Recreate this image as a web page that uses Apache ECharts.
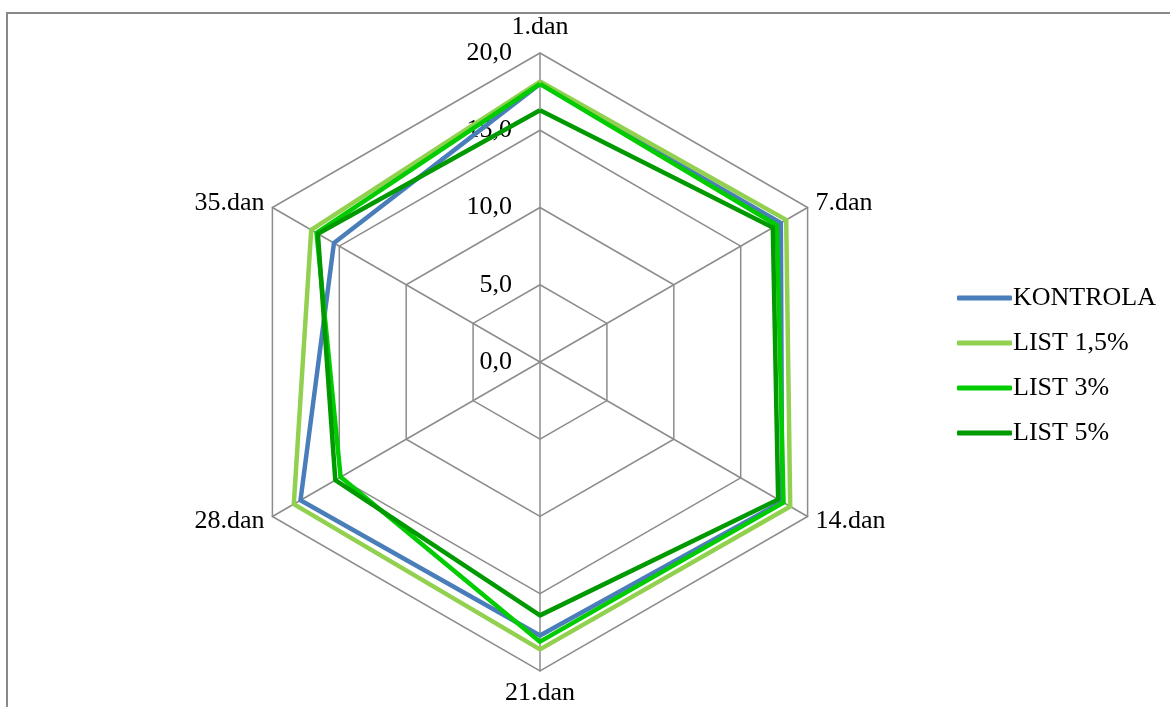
<!DOCTYPE html>
<html>
<head>
<meta charset="utf-8">
<script src="https://cdn.jsdelivr.net/npm/echarts@6/dist/echarts.min.js"></script>
<style>html,body{margin:0;padding:0;background:#fff}#c{width:1170px;height:707px}</style>
</head>
<body>
<div id="c"></div>
<script>
const categories = ['1.dan', '7.dan', '14.dan', '21.dan', '28.dan', '35.dan'];
const tickLabels = ['0,0', '5,0', '10,0', '15,0', '20,0'];
const seriesNames = ['KONTROLA', 'LIST 1,5%', 'LIST 3%', 'LIST 5%'];
const kontrola = [18.0, 18.0, 18.1, 17.7, 17.9, 15.4];
const list15 = [18.15, 18.4, 18.7, 18.6, 18.4, 17.1];
const list3 = [18.0, 17.7, 18.2, 18.1, 14.9, 16.7];
const list5 = [16.3, 17.4, 17.8, 16.4, 15.3, 16.6];
const colors = ['#4A7EBB', '#92D050', '#00CC00', '#009900'];
const values = [kontrola, list15, list3, list5];

// ECharts radar runs counter-clockwise; reorder so categories go clockwise
const order = [0].concat(categories.map((_, i) => i).slice(1).reverse());

const FONT = 'Liberation Serif';
const chart = echarts.init(document.getElementById('c'), null, {renderer: 'canvas'});

const indicator = order.map((idx, i) => {
  const ind = {name: categories[idx], min: 0, max: 20};
  if (i === 0) {
    ind.axisLabel = {show: true};
  }
  return ind;
});

chart.setOption({
  animation: false,
  color: colors,
  graphic: [{
    type: 'rect',
    shape: {x: 7, y: 13, width: 1300, height: 1000},
    style: {fill: 'none', stroke: '#888888', lineWidth: 2},
    silent: true
  }],
  legend: {
    orient: 'vertical',
    left: 952,
    top: 278,
    itemWidth: 55,
    itemHeight: 5,
    itemGap: 15,
    icon: 'roundRect',
    data: seriesNames,
    textStyle: {fontFamily: FONT, fontSize: 26, color: '#000', lineHeight: 30, padding: [0, 0, 0, -4]}
  },
  radar: {
    center: [540, 362],
    radius: 309,
    shape: 'polygon',
    splitNumber: 4,
    startAngle: 90,
    indicator: indicator,
    axisName: {color: '#000', fontFamily: FONT, fontSize: 26},
    nameGap: 9,
    axisLine: {lineStyle: {color: '#8C8C8C', width: 1.5}},
    splitLine: {lineStyle: {color: '#8C8C8C', width: 1.5}},
    splitArea: {show: false},
    axisTick: {show: false},
    axisLabel: {
      show: false,
      color: '#000',
      fontFamily: FONT,
      fontSize: 26,
      margin: 28,
      formatter: function (v) { return tickLabels[Math.round(v / 5)]; }
    }
  },
  series: [{
    type: 'radar',
    symbol: 'none',
    data: seriesNames.map((n, i) => ({
      name: n,
      value: order.map(idx => values[i][idx]),
      lineStyle: {color: colors[i], width: 4.5},
      itemStyle: {color: colors[i]}
    }))
  }]
});
</script>
</body>
</html>
